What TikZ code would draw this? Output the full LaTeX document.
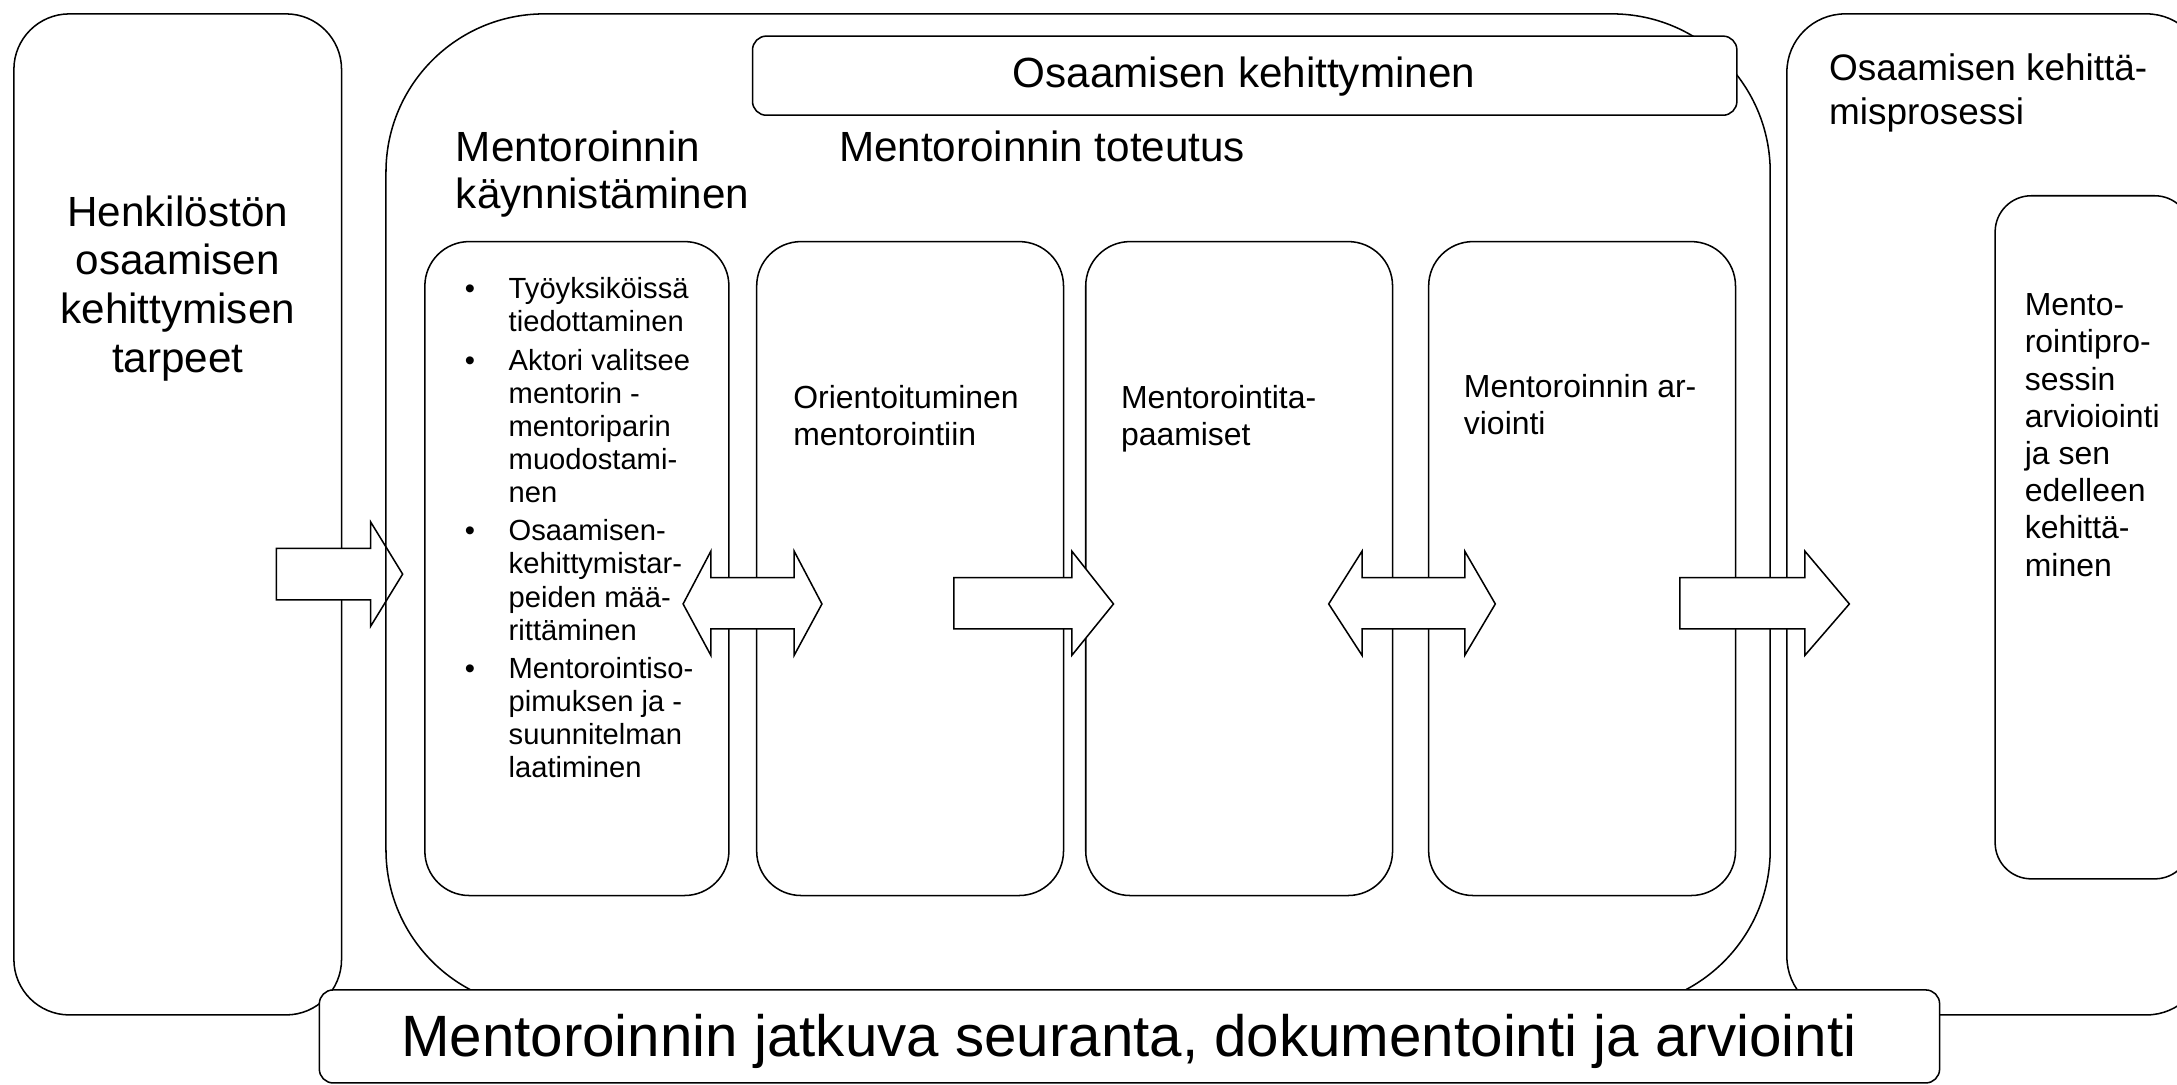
\documentclass[tikz,border=0pt]{standalone}
\usepackage{fontspec}
\setmainfont{Liberation Sans}

\tikzset{
  frame/.style={draw=black, line width=0.55pt},
  blockarrow/.style={draw=black, fill=white, line width=0.55pt, line join=miter},
  bigtxt/.style={font=\fontsize{21}{24}\selectfont},
  headtxt/.style={font=\fontsize{15.2}{17}\selectfont, align=left},
  proctxt/.style={font=\fontsize{13.3}{16}\selectfont, align=left},
  boxtxt/.style={font=\fontsize{11.5}{13.4}\selectfont, align=left},
}

\begin{document}
\begin{tikzpicture}[x=0.5pt,y=-0.5pt]
  \tikzstyle{every node}+=[inner sep=0pt]
  \useasboundingbox (0,0) rectangle (1568,781);
  \clip (0,0) rectangle (1568,781);
  % left box and first arrow
  \draw [frame, rounded corners=20pt] (10,10) rectangle (246,731);
  \draw [blockarrow] (199,395) -- (267,395) -- (267,376) -- (290,413.5) -- (267,451) -- (267,432) -- (199,432) -- cycle;
  % outer frames
  \draw [frame, rounded corners=57pt] (278,10) rectangle (1275,726);
  \draw [frame, fill=white, rounded corners=5pt] (542,26) rectangle (1251,83);
  \draw [frame, rounded corners=21pt] (1287,10) rectangle (1588,731);
  % phase boxes
  \foreach \xa/\xb in {306/525, 545/766, 782/1003, 1029/1250}
    \draw [frame, rounded corners=16pt] (\xa,174) rectangle (\xb,645);
  \draw [frame, rounded corners=13pt] (1437,141) rectangle (1578,633);
  % arrows between phases
  \draw [blockarrow] (492,435) -- (512,397) -- (512,416) -- (572,416) -- (572,397) -- (592,435)
        -- (572,472) -- (572,453) -- (512,453) -- (512,472) -- cycle;
  \draw [blockarrow] (687,416) -- (772,416) -- (772,397) -- (802,435) -- (772,472) -- (772,453) -- (687,453) -- cycle;
  \draw [blockarrow] (957,435) -- (981,397) -- (981,416) -- (1055,416) -- (1055,397) -- (1077,435)
        -- (1055,472) -- (1055,453) -- (981,453) -- (981,472) -- cycle;
  \draw [blockarrow] (1210,416) -- (1300,416) -- (1300,397) -- (1332,435) -- (1300,472) -- (1300,453) -- (1210,453) -- cycle;
  % bottom bar
  \draw [frame, fill=white, rounded corners=5pt] (230,713) rectangle (1397,780);

  % texts (base anchor sits on the last line)
  \node [headtxt, font=\fontsize{15.2}{17.5}\selectfont, align=center, anchor=base] (needs) at (128,268) {Henkilöstön\\osaamisen\\kehittymisen\\tarpeet};
  \node [headtxt, anchor=base west] (launch) at (328,150) {Mentoroinnin\\käynnistäminen};
  \node [headtxt, anchor=base west] (impl) at (604,116) {Mentoroinnin toteutus};
  \node [headtxt, anchor=base] (growth) at (896,63) {Osaamisen kehittyminen};
  \node [proctxt, anchor=base west] (process) at (1317,90) {Osaamisen kehittä-\\misprosessi};
  \node [boxtxt, anchor=base west] (orient) at (571,321) {Orientoituminen\\mentorointiin};
  \node [boxtxt, anchor=base west] (meet) at (807,321) {Mentorointita-\\paamiset};
  \node [boxtxt, anchor=base west] (review) at (1054,313) {Mentoroinnin ar-\\viointi};
  \node [boxtxt, anchor=base west] (develop) at (1458,415) {Mento-\\rointipro-\\sessin\\arvioiointi\\ja sen\\edelleen\\kehittä-\\minen};
  \node [anchor=base west] (tasks) at (332,215) {\fontsize{10.5}{11.9}\selectfont
    \begin{tabular}[t]{@{}p{17pt}@{}l@{}}
      \hspace*{1.2pt}\textbullet & Työyksiköissä\\
      & tiedottaminen\\[2pt]
      \hspace*{1.2pt}\textbullet & Aktori valitsee\\
      & mentorin -\\
      & mentoriparin\\
      & muodostami-\\
      & nen\\[2pt]
      \hspace*{1.2pt}\textbullet & Osaamisen-\\
      & kehittymistar-\\
      & peiden mää-\\
      & rittäminen\\[2pt]
      \hspace*{1.2pt}\textbullet & Mentorointiso-\\
      & pimuksen ja -\\
      & suunnitelman\\
      & laatiminen
    \end{tabular}};
  \node [bigtxt, anchor=base] (follow) at (813,761) {Mentoroinnin jatkuva seuranta, dokumentointi ja arviointi};
\end{tikzpicture}
\end{document}
